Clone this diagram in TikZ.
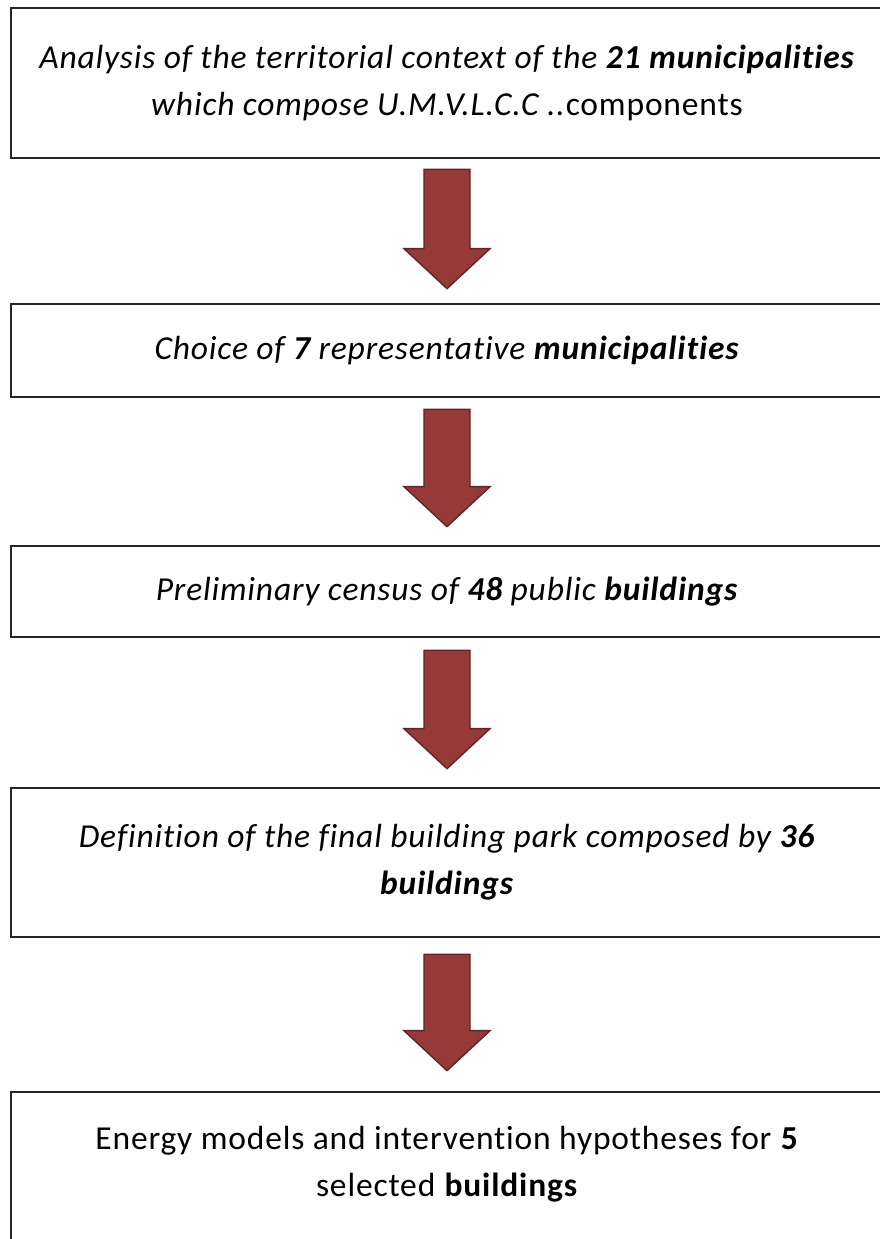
\documentclass[tikz,border=0pt]{standalone}
\usepackage{fontspec}
\setmainfont[Ligatures={NoCommon}, LetterSpace=2.5]{Carlito}
\usetikzlibrary{calc}

\definecolor{arrowfill}{RGB}{149,58,56}
\definecolor{arrowedge}{RGB}{100,36,35}

% flecha de bloque entre dos puntos (inicio, punta)
\newcommand{\blockarrow}[2]{%
  \draw[arrowblock] ($(#1)+(-23,0)$) -- ($(#1)+(23,0)$) -- ($(#2)+(23,40)$)
    -- ($(#2)+(43,40)$) -- (#2) -- ($(#2)+(-43,40)$) -- ($(#2)+(-23,40)$) -- cycle;
}

\begin{document}
\begin{tikzpicture}[
        x=1pt, y=1pt,
        box/.style={
            draw=black!85, line width=2.6pt,
            minimum width=872pt, inner sep=0pt,
            align=center, font=\fontsize{33.5}{47}\selectfont
        },
        arrowblock/.style={fill=arrowfill, draw=arrowedge, line width=1.4pt, line join=miter}
    ]

    % 0. Marco de la imagen
    \clip (0,0) rectangle (880,1239);
    \fill[white] (0,0) rectangle (880,1239);

    % 1. Cajas
    \node[box, minimum height=150pt] (b1) at (447,1156)
        {\textit{Analysis of the territorial context of the \textbf{21 municipalities}}\\
         \textit{which compose U.M.V.L.C.C ..}components};
    \node[box, minimum height=93pt] (b2) at (447,888.5)
        {\textit{Choice of \textbf{7} representative \textbf{municipalities}}};
    \node[box, minimum height=91pt] (b3) at (447,647.5)
        {\textit{Preliminary census of \textbf{48} public \textbf{buildings}}};
    \node[box, minimum height=149pt] (b4) at (447,376.5)
        {\textit{Definition of the final building park composed by \textbf{36}}\\
         \textit{\textbf{buildings}}};
    \node[box, minimum height=150pt] (b5) at (447,72)
        {Energy models and intervention hypotheses for \textbf{5}\\
         selected \textbf{buildings}\rule[-12pt]{0pt}{0pt}};

    % 2. Puntos de inicio y punta de las flechas
    \coordinate (a1s) at ([yshift=-10pt]b1.south);
    \coordinate (a1e) at ([yshift=14pt]b2.north);
    \coordinate (a2s) at ([yshift=-11pt]b2.south);
    \coordinate (a2e) at ([yshift=18pt]b3.north);
    \coordinate (a3s) at ([yshift=-12pt]b3.south);
    \coordinate (a3e) at ([yshift=18pt]b4.north);
    \coordinate (a4s) at ([yshift=-16pt]b4.south);
    \coordinate (a4e) at ([yshift=20pt]b5.north);

    % 3. Flechas de bloque
    \blockarrow{a1s}{a1e}
    \blockarrow{a2s}{a2e}
    \blockarrow{a3s}{a3e}
    \blockarrow{a4s}{a4e}

\end{tikzpicture}
\end{document}
